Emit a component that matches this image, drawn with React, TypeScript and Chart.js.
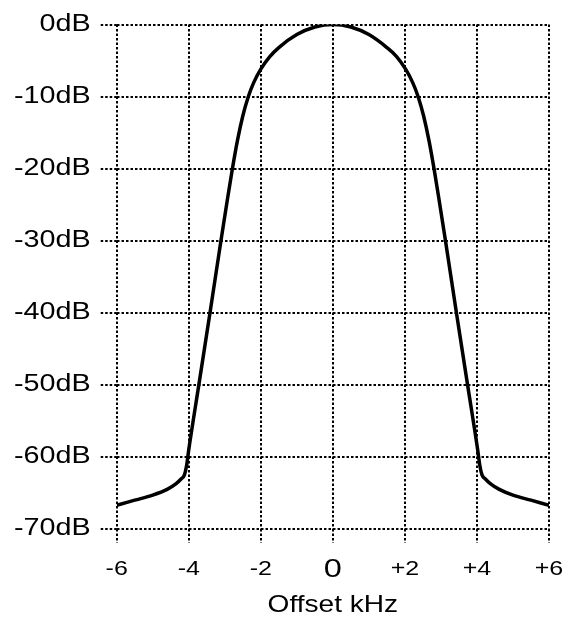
import React, { useEffect, useRef } from 'react';
import { Chart, registerables } from 'chart.js';

Chart.register(...registerables);

// Frequency offset (kHz) and response level (dB)
const offsetKHz = [
  -6, -5.5, -5.0, -4.6, -4.35, -4.2, -4.12, -4.06, -4.0, -3.72, -3.41, -3.1, -2.95, -2.8, -2.65, -2.5, -2.35, -2.2, -2.0, -1.75, -1.5, -1.0, -0.5,
  0,
  0.5, 1.0, 1.5, 1.77, 2.02, 2.22, 2.37, 2.52, 2.67, 2.82, 2.97, 3.12, 3.43, 3.74, 4.02, 4.08, 4.14, 4.22, 4.37, 4.62, 5.0, 5.5, 6,
];
const levelDB = [
  -66.7, -66.0, -65.3, -64.5, -63.7, -63.0, -62.5, -61.2, -59.0, -50, -40, -29.8, -25.0, -20.35, -16.15, -12.7, -10.05, -8.1, -6.2, -4.45, -3.2, -1.4, -0.35,
  0,
  -0.35, -1.4, -3.2, -4.45, -6.2, -8.1, -10.05, -12.7, -16.15, -20.35, -25.0, -29.8, -40, -50, -59.0, -61.2, -62.5, -63.0, -63.7, -64.5, -65.3, -66.0, -66.7,
];

const xTickMin = -6;
const xTickMax = 6;
const xTickStep = 2;
const yTickMin = -70;
const yTickMax = 0;
const yTickStep = 10;
const xTitle = 'Offset kHz';

const FONT = 'Liberation Sans';
// horizontal stretch of the reference's lettering, keyed by font size
const STRETCH: Record<number, number> = { 23: 1.25, 20: 1.25, 26: 1.25, 24: 1.17 };
const DASH = [2.5, 2];

export default function App() {
  const ref = useRef<HTMLCanvasElement | null>(null);

  useEffect(() => {
    document.body.style.margin = '0';
    const canvas = ref.current!;
    const ctx = canvas.getContext('2d') as any;
    const proto = Object.getPrototypeOf(ctx);
    const origFill = proto.fillText;
    const origMeasure = proto.measureText;
    const sx = () => {
      const m = /(\d+(?:\.\d+)?)px/.exec(ctx.font);
      const s = m ? Math.round(parseFloat(m[1])) : 0;
      return STRETCH[s] || 1;
    };
    ctx.fillText = function (text: string, x: number, y: number, maxWidth?: number) {
      const k = sx();
      ctx.save();
      ctx.translate(x, y);
      ctx.scale(k, 1);
      if (maxWidth !== undefined) origFill.call(ctx, text, 0, 0, maxWidth / k);
      else origFill.call(ctx, text, 0, 0);
      ctx.restore();
    };
    ctx.measureText = function (text: string) {
      const m = origMeasure.call(ctx, text);
      const k = sx();
      return { width: m.width * k, actualBoundingBoxAscent: m.actualBoundingBoxAscent, actualBoundingBoxDescent: m.actualBoundingBoxDescent };
    };

    const points = offsetKHz.map((x, i) => ({ x, y: levelDB[i] }));

    const chart = new Chart(canvas, {
      type: 'line',
      data: {
        datasets: [
          {
            data: points,
            borderColor: '#000',
            borderWidth: 3.5,
            pointRadius: 0,
            cubicInterpolationMode: 'monotone',
            fill: false,
          },
        ],
      },
      options: {
        animation: false,
        responsive: false,
        devicePixelRatio: 1,
        layout: { padding: { top: 24.5, right: 22, left: 0, bottom: 0 } },
        plugins: { legend: { display: false }, tooltip: { enabled: false } },
        scales: {
          x: {
            type: 'linear',
            min: xTickMin,
            max: xTickMax,
            afterFit: (s: any) => {
              s.height = 92;
              s.paddingLeft = 0;
              s.paddingRight = 0;
            },
            ticks: {
              stepSize: xTickStep,
              autoSkip: false,
              maxRotation: 0,
              color: '#000',
              padding: 14.5,
              font: (c: any) =>
                c.tick && c.tick.value === 0
                  ? { family: FONT, size: 26, lineHeight: 24 / 26 }
                  : { family: FONT, size: 20, lineHeight: 1.2 },
              callback: (v: any) => (Number(v) > 0 ? '+' + v : String(v)),
            },
            grid: {
              color: '#000',
              lineWidth: 2,
              tickLength: 14,
              tickColor: '#000',
              tickWidth: 2,
              tickBorderDash: DASH,
            },
            border: { display: false, dash: DASH },
            title: {
              display: true,
              text: xTitle,
              color: '#000',
              font: { family: FONT, size: 24 },
              padding: { top: 0, bottom: 1 },
            },
          },
          y: {
            type: 'linear',
            min: yTickMin,
            max: yTickMax,
            afterFit: (s: any) => {
              s.width = 116.7;
              s.paddingTop = 0;
              s.paddingBottom = 0;
            },
            ticks: {
              stepSize: yTickStep,
              color: '#000',
              padding: 10,
              font: { family: FONT, size: 23 },
              callback: (v: any) => v + 'dB',
            },
            grid: {
              color: '#000',
              lineWidth: 2,
              tickLength: 16,
              tickColor: '#000',
              tickWidth: 2,
              tickBorderDash: DASH,
            },
            border: { display: false, dash: DASH },
          },
        },
      },
    });

    return () => {
      chart.destroy();
      delete ctx.fillText;
      delete ctx.measureText;
    };
  }, []);

  return (
    <div style={{ width: 571, height: 621 }}>
      <canvas ref={ref} width={571} height={621} style={{ display: 'block' }} />
    </div>
  );
}
